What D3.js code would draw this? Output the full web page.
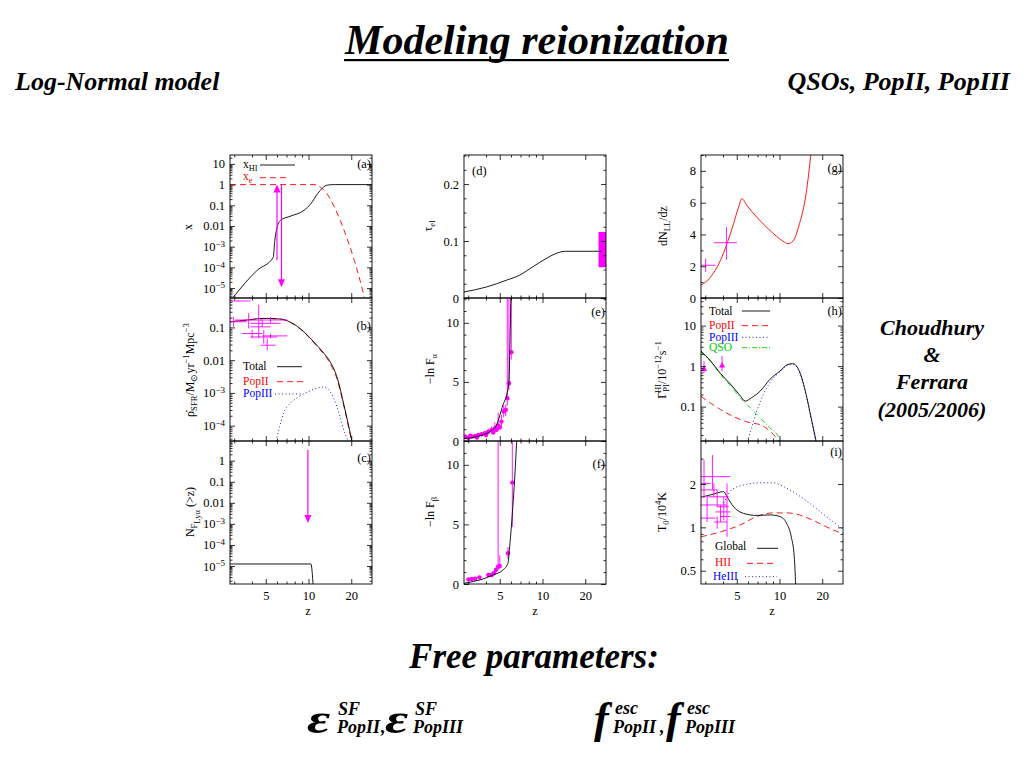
<!DOCTYPE html>
<html><head><meta charset="utf-8">
<script src="https://cdn.jsdelivr.net/npm/d3@7"></script>
<style>body{margin:0;background:#fff}svg{display:block}</style>
</head><body>
<script>
// ================= DATA =================
const zDomain = [2.8, 28];
const zMajorTicks = [5, 10, 20];
const zMinorTicks = [3, 4, 6, 7, 8, 9];

// (a) ionized / neutral fractions
const aTicks = [10, 1, 0.1, 0.01, 1e-3, 1e-4, 1e-5];
const aTickLabels = ['10', '1', '0.1', '0.01', '10^−3', '10^−4', '10^−5'];
const aXHI = [[2.95,3.6e-6],[4.35,7.2e-5],[5.64,3e-4],[5.79,2e-3],[6.02,9e-3],[6.36,0.019],[7.48,0.03],[9.3,0.057],[10.4,0.12],[11.6,0.37],[13.6,0.95],[15.2,1.0],[28,1.0]];
const aXe = [[2.8,1.0],[10.9,1.0],[11.6,0.93],[12.2,0.72],[12.9,0.53],[15.2,0.083],[17.8,6.2e-3],[21,2.2e-4],[23.4,1.6e-5],[24.7,3.7e-6]];
const aArrowUp = [6.0, 2.2e-4, 1.0];      // z, from, to
const aArrowDown = [6.45, 1.0, 1.1e-5];

// (b) star formation rate density
const bTicks = [0.1, 0.01, 1e-3, 1e-4];
const bTickLabels = ['0.1', '0.01', '10^−3', '10^−4'];
const bTotal = [[2.81,0.149],[3.69,0.168],[4.84,0.189],[6.36,0.18],[7.48,0.143],[9.3,0.073],[10.9,0.036],[12.9,0.0158],[14,9.9e-3],[16,2.7e-3],[17.8,4.1e-4],[19.4,7.8e-5],[20.2,3.4e-5]];
const bPopII = [[2.81,0.147],[3.69,0.166],[4.84,0.187],[6.36,0.178],[7.48,0.14],[9.3,0.071],[10.9,0.034],[12.9,0.0145],[14,8.8e-3],[16,2.4e-3],[17.8,3.7e-4],[19.4,7e-5],[20.2,3.2e-5]];
const bPopIII = [[5.9,3.4e-5],[6.2,8e-5],[6.7,2.5e-4],[7.5,5e-4],[8.5,7.5e-4],[10,1.1e-3],[11.5,1.4e-3],[12.5,1.5e-3],[13.6,1.35e-3],[15,7e-4],[16.5,2.2e-4],[18,6e-5],[19,3.4e-5]];
// z, value, zlo, zhi, vlo, vhi
const bObs = [[2.97,0.149,2.81,3.69,0.104,0.21],[3.79,0.168,3.05,4.72,0.093,0.27],[4.46,0.104,3.9,5.4,0.046,0.49],[4.01,0.065,3.4,4.72,0.046,0.083],[4.72,0.133,3.9,6.36,0.104,0.168],[5.4,0.168,4.59,7.09,0.133,0.21],[4.84,0.051,3.9,6.02,0.032,0.083],[5.4,0.055,4.72,7.09,0.046,0.065],[5.12,0.0285,4.59,5.86,0.02,0.046],[3.2,0.64,2.81,3.9,0.62,0.66]];

// (c) number of Lya-flux-free regions
const cTicks = [1, 0.1, 0.01, 1e-3, 1e-4, 1e-5];
const cTickLabels = ['1', '0.1', '0.01', '10^−3', '10^−4', '10^−5'];
const cModel = [[2.8,1.25e-5],[10.4,1.25e-5],[10.8,1e-6]];
const cArrow = [9.9, 3.2, 1.1e-3];

// (d) electron scattering optical depth
const dTicks = [0, 0.1, 0.2];
const dTickLabels = ['0', '0.1', '0.2'];
const dMinor = [0.025, 0.05, 0.075, 0.125, 0.15, 0.175, 0.225, 0.25];
const dTau = [[2.8,0.0106],[4.04,0.0194],[5.57,0.0312],[6.89,0.04],[8.52,0.0546],[10.56,0.069],[12.4,0.078],[14.5,0.082],[25.9,0.082]];
const dWMAP = [24.8, 28, 0.054, 0.116]; // zlo, zhi, lo, hi

// (e) Lya effective optical depth
const eTicks = [0, 5, 10];
const eTickLabels = ['0', '5', '10'];
const eMinor = [1,2,3,4,6,7,8,9,11,12];
const eModel = [[2.8,0.2],[3.63,0.45],[4.26,0.79],[4.74,1.36],[5.27,3.05],[5.65,4.13],[5.8,4.97],[5.93,9.55],[6.0,12.5]];
// z, value, lo, hi
const eObs = [[2.86,0.37,0.2,0.55],[3.01,0.28,0.15,0.42],[3.1,0.45,0.3,0.6],[3.18,0.37,0.22,0.52],[3.35,0.42,0.28,0.58],[3.45,0.3,0.2,0.45],[3.53,0.51,0.35,0.68],[3.73,0.57,0.4,0.75],[3.93,0.65,0.45,0.85],[4.0,0.5,0.38,0.62],[4.15,0.79,0.55,1.05],[4.38,0.93,0.65,1.25],[4.5,0.72,0.6,0.9],[4.62,1.07,0.75,1.6],[4.75,0.95,0.8,1.15],[4.87,1.3,0.9,2.4],[5.0,1.15,1.0,1.35],[5.14,1.64,1.2,2.2],[5.33,2.49,2.0,3.0],[5.51,2.63,2.1,3.1],[5.65,3.62,3.0,14],[5.8,4.89,4.3,14],[6.03,7.52,6.9,14]];

// (f) Lyb effective optical depth
const fTicks = [0, 5, 10];
const fTickLabels = ['0', '5', '10'];
const fMinor = [1,2,3,4,6,7,8,9,11,12];
const fModel = [[2.8,0.05],[2.94,0.11],[3.63,0.34],[4.49,0.76],[5.27,1.18],[5.71,1.74],[5.87,3.13],[6.18,6.5],[6.53,11.26],[6.6,12.5]];
const fObs = [[3.01,0.39,0.3,0.48],[3.18,0.42,0.33,0.5],[3.35,0.45,0.36,0.55],[3.6,0.56,0.45,0.66],[4.15,0.76,0.6,0.9],[4.38,0.76,0.6,0.92],[4.54,0.9,0.75,1.05],[4.69,1.18,1.0,1.4],[4.87,1.45,1.2,13],[5.0,1.51,1.3,2.4],[5.71,2.58,2.1,3.1],[6.13,8.51,4.79,13]];

// (g) Lyman-limit systems
const gTicks = [0, 2, 4, 6, 8];
const gTickLabels = ['0', '2', '4', '6', '8'];
const gMinor = [1, 3, 5, 7, 9];
const gModel = [[2.8,0.8],[3.27,1.32],[3.84,2.37],[4.27,3.42],[4.75,4.68],[5.15,5.72],[5.44,6.25],[5.89,5.83],[6.91,5.09],[8.55,4.26],[10.58,3.58],[11.47,3.42],[12.43,3.58],[13.83,4.68],[15.4,6.57],[16.7,9.2]];
const gObs = [[3.02,2.06,2.8,3.54,1.64,2.48],[4.23,3.48,3.45,5.02,2.41,4.47]];

// (h) photoionization rate
const hTicks = [10, 1, 0.1];
const hTickLabels = ['10', '1', '0.1'];
const hTotal = [[2.8,2.35],[3.27,1.35],[3.84,0.66],[4.51,0.36],[5.3,0.185],[5.73,0.137],[6.35,0.166],[7.3,0.24],[8.55,0.47],[10.05,0.75],[11.47,1.1],[12.4,1.15],[13.8,0.75],[15.4,0.2],[16.7,0.053],[18.1,0.0142]];
const hPopII = [[2.8,0.18],[3.84,0.085],[5.3,0.048],[6.2,0.04],[7.3,0.036],[8.55,0.025],[9.77,0.015],[10.0,0.0135]];
const hPopIII = [[5.94,0.0135],[6.35,0.03],[6.91,0.078],[7.7,0.2],[8.55,0.39],[10.05,0.72],[11.47,1.07],[12.4,1.12],[13.8,0.73],[15.4,0.19],[16.7,0.05],[18.0,0.0135]];
const hQSO = [[2.8,2.2],[3.27,1.3],[3.84,0.62],[4.51,0.33],[5.3,0.165],[5.89,0.113],[7.3,0.053],[8.55,0.03],[9.77,0.019],[10.3,0.0135]];
const hObs = [[2.94,0.85,0.69,1.33],[3.94,1.04,0.75,1.77]];

// (i) IGM temperature
const iTicks = [2, 1, 0.5];
const iTickLabels = ['2', '1', '0.5'];
const iMinor = [0.6, 0.7, 0.8, 0.9, 3];
const iGlobal = [[2.8,1.62],[3.27,1.68],[4.05,1.77],[4.27,1.63],[4.75,1.39],[5.58,1.25],[6.91,1.21],[8.55,1.22],[10.05,1.19],[11.2,1.07],[12.1,0.86],[12.7,0.625],[13.0,0.4]];
const iHII = [[2.8,0.86],[3.84,0.93],[5.3,1.04],[6.91,1.19],[9.0,1.26],[11.2,1.26],[13.8,1.22],[17.2,1.12],[21.3,1.01],[28,0.9]];
const iHeIII = [[4.05,1.47],[4.6,1.82],[5.58,1.97],[7.3,2.04],[9.0,2.04],[10.8,1.91],[12.4,1.77],[16.3,1.47],[21.3,1.19],[28,0.97]];
const iObs = [[2.94,2.02,2.8,3.27,1.59,2.94],[3.37,2.25,2.8,4.51,1.82,3.18],[3.09,1.43,2.8,4.27,1.28,1.63],[3.64,1.63,3.09,4.39,1.39,1.82],[3.84,1.28,3.54,4.51,1.09,1.43],[3.09,1.16,2.8,3.54,1.09,1.28],[4.05,1.39,3.64,4.39,1.12,1.63],[4.27,1.19,3.84,4.51,0.86,2.02],[3.45,1.82,2.8,3.64,1.63,2.02],[3.64,1.09,3.45,4.27,0.98,1.19]];

// ================= DRAWING =================
const RED = '#ff0000', BLUE = '#0000ff', GREEN = '#00d000', MAG = '#ff00ff';
const SERIF = "'Liberation Serif', 'Times New Roman', serif";
const svg = d3.select('body').append('svg').attr('width', 1024).attr('height', 768);
const COLS = [230, 464, 701], ROWS = [155, 298, 441], PW = 142, PH = 143;
const defs = svg.append('defs');

function logMinor(domain) {
  const out = [];
  for (let e = Math.floor(Math.log10(domain[0])); e <= Math.ceil(Math.log10(domain[1])); e++)
    for (let k = 2; k <= 9; k++) { const v = k * Math.pow(10, e); if (v > domain[0] && v < domain[1]) out.push(v); }
  return out;
}

function rich(sel, parts, size) {
  const off = l => l === 0 ? 0 : l === 1 ? -size * 0.42 : l === -1 ? size * 0.28 : size * 0.5;
  let level = 0;
  parts.forEach(p => {
    const lv = p[1] || 0;
    const t = sel.append('tspan').attr('font-size', lv === 0 ? size : size * 0.72)
      .attr('dy', off(lv) - off(level)).text(p[0]);
    if (p[2] !== undefined) t.attr('dx', p[2]);
    level = lv;
  });
}

function panel(id, col, row, yScale, yMajor, yLabels, yMinor, showX) {
  const g = svg.append('g').attr('transform', `translate(${COLS[col]},${ROWS[row]})`);
  const x = d3.scaleLog().domain(zDomain).range([0, PW]);
  const y = yScale.range([PH, 0]);
  defs.append('clipPath').attr('id', 'clip' + id).append('rect').attr('width', PW).attr('height', PH);
  const plot = g.append('g').attr('clip-path', `url(#clip${id})`);
  const style = a => a.call(s => s.select('.domain').remove())
    .attr('font-family', SERIF).attr('font-size', 12.5)
    .call(s => s.selectAll('line').attr('stroke', '#000').attr('stroke-width', 0.8));
  // x axes
  style(g.append('g').attr('transform', `translate(0,${PH})`)
    .call(d3.axisBottom(x).tickValues(zMajorTicks).tickSizeInner(-5).tickSizeOuter(0).tickPadding(7)
      .tickFormat(d => showX ? String(d) : '')));
  style(g.append('g').attr('transform', `translate(0,${PH})`)
    .call(d3.axisBottom(x).tickValues(zMinorTicks).tickSizeInner(-2.5).tickSizeOuter(0).tickFormat('')));
  style(g.append('g').call(d3.axisTop(x).tickValues(zMajorTicks).tickSizeInner(-5).tickSizeOuter(0).tickFormat('')));
  style(g.append('g').call(d3.axisTop(x).tickValues(zMinorTicks).tickSizeInner(-2.5).tickSizeOuter(0).tickFormat('')));
  // y axes
  const ly = g.append('g').call(d3.axisLeft(y).tickValues(yMajor).tickSizeInner(-5).tickSizeOuter(0).tickPadding(5)
    .tickFormat((d, i) => yLabels[i]));
  style(ly);
  ly.selectAll('.tick text').each(function () {
    const s = d3.select(this), t = s.text();
    if (t.includes('^')) { const [b, e] = t.split('^'); s.text(b); s.append('tspan').attr('dy', '-0.45em').attr('font-size', '0.72em').text(e); }
  });
  style(g.append('g').call(d3.axisLeft(y).tickValues(yMinor).tickSizeInner(-2.5).tickSizeOuter(0).tickFormat('')));
  style(g.append('g').attr('transform', `translate(${PW},0)`).call(d3.axisRight(y).tickValues(yMajor).tickSizeInner(-5).tickSizeOuter(0).tickFormat('')));
  style(g.append('g').attr('transform', `translate(${PW},0)`).call(d3.axisRight(y).tickValues(yMinor).tickSizeInner(-2.5).tickSizeOuter(0).tickFormat('')));
  g.append('rect').attr('width', PW).attr('height', PH).attr('fill', 'none').attr('stroke', '#000').attr('stroke-width', 0.9);
  return { g, plot, x, y };
}

function curve(p, data, color, dash, w) {
  const gen = d3.line().x(d => p.x(d[0])).y(d => p.y(d[1])).curve(d3.curveMonotoneX);
  p.plot.append('path').attr('d', gen(data)).attr('fill', 'none').attr('stroke', color)
    .attr('stroke-width', w || 0.9).attr('stroke-dasharray', dash || null);
}
function crosses(p, data) {
  const s = p.plot.append('g').attr('stroke', MAG).attr('stroke-width', 0.9);
  data.forEach(d => {
    s.append('line').attr('x1', p.x(d[2])).attr('x2', p.x(d[3])).attr('y1', p.y(d[1])).attr('y2', p.y(d[1]));
    s.append('line').attr('x1', p.x(d[0])).attr('x2', p.x(d[0])).attr('y1', p.y(d[4])).attr('y2', p.y(d[5]));
  });
}
function dots(p, data, r, shape) {
  const s = p.plot.append('g');
  data.forEach(d => {
    const cx = p.x(d[0]), cy = p.y(d[1]);
    s.append('line').attr('x1', cx).attr('x2', cx).attr('y1', p.y(d[2])).attr('y2', p.y(d[3])).attr('stroke', MAG).attr('stroke-width', 0.9);
    if (shape === 'tri') s.append('path').attr('d', `M${cx},${cy - 3.5}L${cx + 3},${cy + 2}L${cx - 3},${cy + 2}Z`).attr('fill', MAG);
    else s.append('circle').attr('cx', cx).attr('cy', cy).attr('r', r).attr('fill', MAG);
  });
}
function arrow(p, a) {
  const x = p.x(a[0]), y1 = p.y(a[1]), y2 = p.y(a[2]);
  const dir = y2 > y1 ? 1 : -1;
  p.plot.append('line').attr('x1', x).attr('x2', x).attr('y1', y1).attr('y2', y2 - dir * 4).attr('stroke', MAG).attr('stroke-width', 1.2);
  p.plot.append('path').attr('d', `M${x},${y2}L${x - 3.5},${y2 - dir * 8}L${x + 3.5},${y2 - dir * 8}Z`).attr('fill', MAG);
}
function legendItem(p, tx, ty, parts, color, x1, x2, ly, dash) {
  const t = p.g.append('text').attr('x', tx).attr('y', ty).attr('font-family', SERIF).attr('fill', color);
  rich(t, parts, 11.5);
  p.g.append('line').attr('x1', x1).attr('x2', x2).attr('y1', ly).attr('y2', ly).attr('stroke', color)
    .attr('stroke-width', 0.9).attr('stroke-dasharray', dash || null);
}
function tag(p, txt, x, y, anchor) {
  p.g.append('text').attr('x', x).attr('y', y).attr('text-anchor', anchor).attr('font-family', SERIF)
    .attr('font-size', 12.5).text(txt);
}
function yTitle(cx, cy, parts) {
  const t = svg.append('text').attr('transform', `translate(${cx},${cy}) rotate(-90)`).attr('text-anchor', 'middle')
    .attr('font-family', SERIF);
  rich(t, parts, 12);
}

const DASH = '6,4', DOT = '1,2.5', DASHDOT = '5,2,1,2';

// ---- (a)
const pa = panel('a', 0, 0, d3.scaleLog().domain([3.3e-6, 27]), aTicks, aTickLabels, logMinor([3.3e-6, 27]), false);
curve(pa, aXHI, '#000');
curve(pa, aXe, RED, DASH);
arrow(pa, aArrowUp); arrow(pa, aArrowDown);
legendItem(pa, 13, 13, [['x'], ['HI', -1]], '#000', 30, 65, 10);
legendItem(pa, 13, 25, [['x'], ['e', -1]], RED, 30, 60, 22.7, DASH);
tag(pa, '(a)', PW - 1, 13, 'end');
yTitle(192, 227, [['x']]);

// ---- (b)
const pb = panel('b', 0, 1, d3.scaleLog().domain([3.4e-5, 0.79]), bTicks, bTickLabels, logMinor([3.4e-5, 0.79]), false);
curve(pb, bPopIII, BLUE, DOT);
curve(pb, bPopII, RED, DASH);
curve(pb, bTotal, '#000');
crosses(pb, bObs);
legendItem(pb, 13, 72, [['Total']], '#000', 47, 72, 68.7);
legendItem(pb, 13, 87, [['PopII']], RED, 47, 75, 83.7, DASH);
legendItem(pb, 13, 99, [['PopIII']], BLUE, 45, 73, 96, DOT);
tag(pb, '(b)', PW - 1, 32, 'end');
yTitle(194, 370, [['ρ̇'], ['SFR', -1], ['/M'], ['⊙', -1], ['yr'], ['−1', 1], ['Mpc'], ['−3', 1]]);

// ---- (c)
const pc = panel('c', 0, 2, d3.scaleLog().domain([1.4e-6, 8.6]), cTicks, cTickLabels, logMinor([1.4e-6, 8.6]), true);
curve(pc, cModel, '#000');
arrow(pc, cArrow);
tag(pc, '(c)', PW - 1, 21, 'end');
yTitle(194, 512, [['N'], ['F', -1], ['Lyα', -2], [' (>z)', 0]]);

// ---- (d)
const pd = panel('d', 1, 0, d3.scaleLinear().domain([0, 0.251]), dTicks, dTickLabels, dMinor, false);
pd.plot.append('rect').attr('x', pd.x(dWMAP[0])).attr('width', pd.x(dWMAP[1]) - pd.x(dWMAP[0]))
  .attr('y', pd.y(dWMAP[3])).attr('height', pd.y(dWMAP[2]) - pd.y(dWMAP[3])).attr('fill', MAG);
curve(pd, dTau, '#000');
tag(pd, '(d)', 8, 20, 'start');
yTitle(432, 226, [['τ'], ['el', -1]]);

// ---- (e)
const pe = panel('e', 1, 1, d3.scaleLinear().domain([0, 12.1]), eTicks, eTickLabels, eMinor, false);
dots(pe, eObs, 2.2);
curve(pe, eModel, '#000');
tag(pe, '(e)', PW - 1, 18, 'end');
yTitle(434, 369, [['−ln F'], ['α', -1]]);

// ---- (f)
const pf = panel('f', 1, 2, d3.scaleLinear().domain([0, 12.0]), fTicks, fTickLabels, fMinor, true);
dots(pf, fObs, 2.2);
curve(pf, fModel, '#000');
tag(pf, '(f)', PW - 1, 27, 'end');
yTitle(434, 512, [['−ln F'], ['β', -1]]);

// ---- (g)
const pg = panel('g', 2, 0, d3.scaleLinear().domain([0, 9]), gTicks, gTickLabels, gMinor, false);
curve(pg, gModel, RED);
crosses(pg, gObs);
tag(pg, '(g)', PW - 1, 17, 'end');
yTitle(667, 226, [['dN'], ['LL', -1], ['/dz']]);

// ---- (h)
const ph = panel('h', 2, 1, d3.scaleLog().domain([0.0142, 48]), hTicks, hTickLabels, logMinor([0.0142, 48]), false);
curve(ph, hPopIII, BLUE, DOT);
curve(ph, hPopII, RED, DASH);
curve(ph, hQSO, GREEN, DASHDOT);
curve(ph, hTotal, '#000');
dots(ph, hObs, 2, 'tri');
legendItem(ph, 8, 16.5, [['Total']], '#000', 41, 69, 13);
legendItem(ph, 8, 31, [['PopII']], RED, 41, 69, 27.7, DASH);
legendItem(ph, 8, 42.8, [['PopIII']], BLUE, 41, 69, 39.3, DOT);
legendItem(ph, 8, 53.2, [['QSO']], GREEN, 41, 69, 49.7, DASHDOT);
tag(ph, '(h)', PW - 1, 17, 'end');
yTitle(666, 370, [['Γ'], ['PI', -1], ['HI', 1, -9], ['/10'], ['−12', 1], ['s'], ['−1', 1]]);

// ---- (i)
const pi = panel('i', 2, 2, d3.scaleLog().domain([0.404, 3.98]), iTicks, iTickLabels, iMinor, true);
curve(pi, iHeIII, BLUE, DOT);
curve(pi, iHII, RED, DASH);
curve(pi, iGlobal, '#000');
crosses(pi, iObs);
legendItem(pi, 14, 109, [['Global']], '#000', 56, 77, 107.3);
legendItem(pi, 14, 125, [['HII']], RED, 46, 76, 122.3, DASH);
legendItem(pi, 12, 138.5, [['HeIII']], BLUE, 44, 76, 135.7, DOT);
tag(pi, '(i)', PW - 1, 15, 'end');
yTitle(666, 512, [['T'], ['0', -1], ['/10'], ['4', 1], ['K']]);

// x titles
[308, 535, 772].forEach(cx => svg.append('text').attr('x', cx).attr('y', 615).attr('text-anchor', 'middle')
  .attr('font-family', SERIF).attr('font-size', 12.5).text('z'));

// ================= SLIDE TEXT =================
const BI = s => s.attr('font-family', SERIF).attr('font-weight', 'bold').attr('font-style', 'italic');
const title = BI(svg.append('text')).attr('x', 537).attr('y', 54).attr('text-anchor', 'middle').attr('font-size', 42)
  .text('Modeling reionization');
const bb = title.node().getBBox();
svg.append('rect').attr('x', bb.x).attr('width', bb.width).attr('y', 59).attr('height', 2.2).attr('fill', '#000');
BI(svg.append('text')).attr('x', 15).attr('y', 90).attr('font-size', 26).text('Log-Normal model');
BI(svg.append('text')).attr('x', 1010).attr('y', 90).attr('text-anchor', 'end').attr('font-size', 26).text('QSOs, PopII, PopIII');
[['Choudhury', 335], ['&', 362], ['Ferrara', 389], ['(2005/2006)', 417]].forEach(([t, yy]) =>
  BI(svg.append('text')).attr('x', 932).attr('y', yy).attr('text-anchor', 'middle').attr('font-size', 22).text(t));
BI(svg.append('text')).attr('x', 534).attr('y', 668).attr('text-anchor', 'middle').attr('font-size', 35).text('Free parameters:');

function symbol(x, glyph, size, sx) {
  BI(svg.append('text')).attr('transform', `translate(${x},733) scale(${sx},1)`).attr('font-size', size).text(glyph);
}
function script(x, y, t) { BI(svg.append('text')).attr('x', x).attr('y', y).attr('font-size', 18).text(t); }
symbol(307, 'ε', 42, 1.35); script(338, 715, 'SF'); script(337, 733, 'PopII');
script(381, 733, ',');
symbol(385, 'ε', 42, 1.35); script(415, 715, 'SF'); script(413, 733, 'PopIII');
symbol(594, 'f', 44, 1); script(615, 714, 'esc'); script(613, 733, 'PopII');
script(660, 733, ',');
symbol(666, 'f', 44, 1); script(687, 714, 'esc'); script(685, 733, 'PopIII');
</script>
</body></html>
